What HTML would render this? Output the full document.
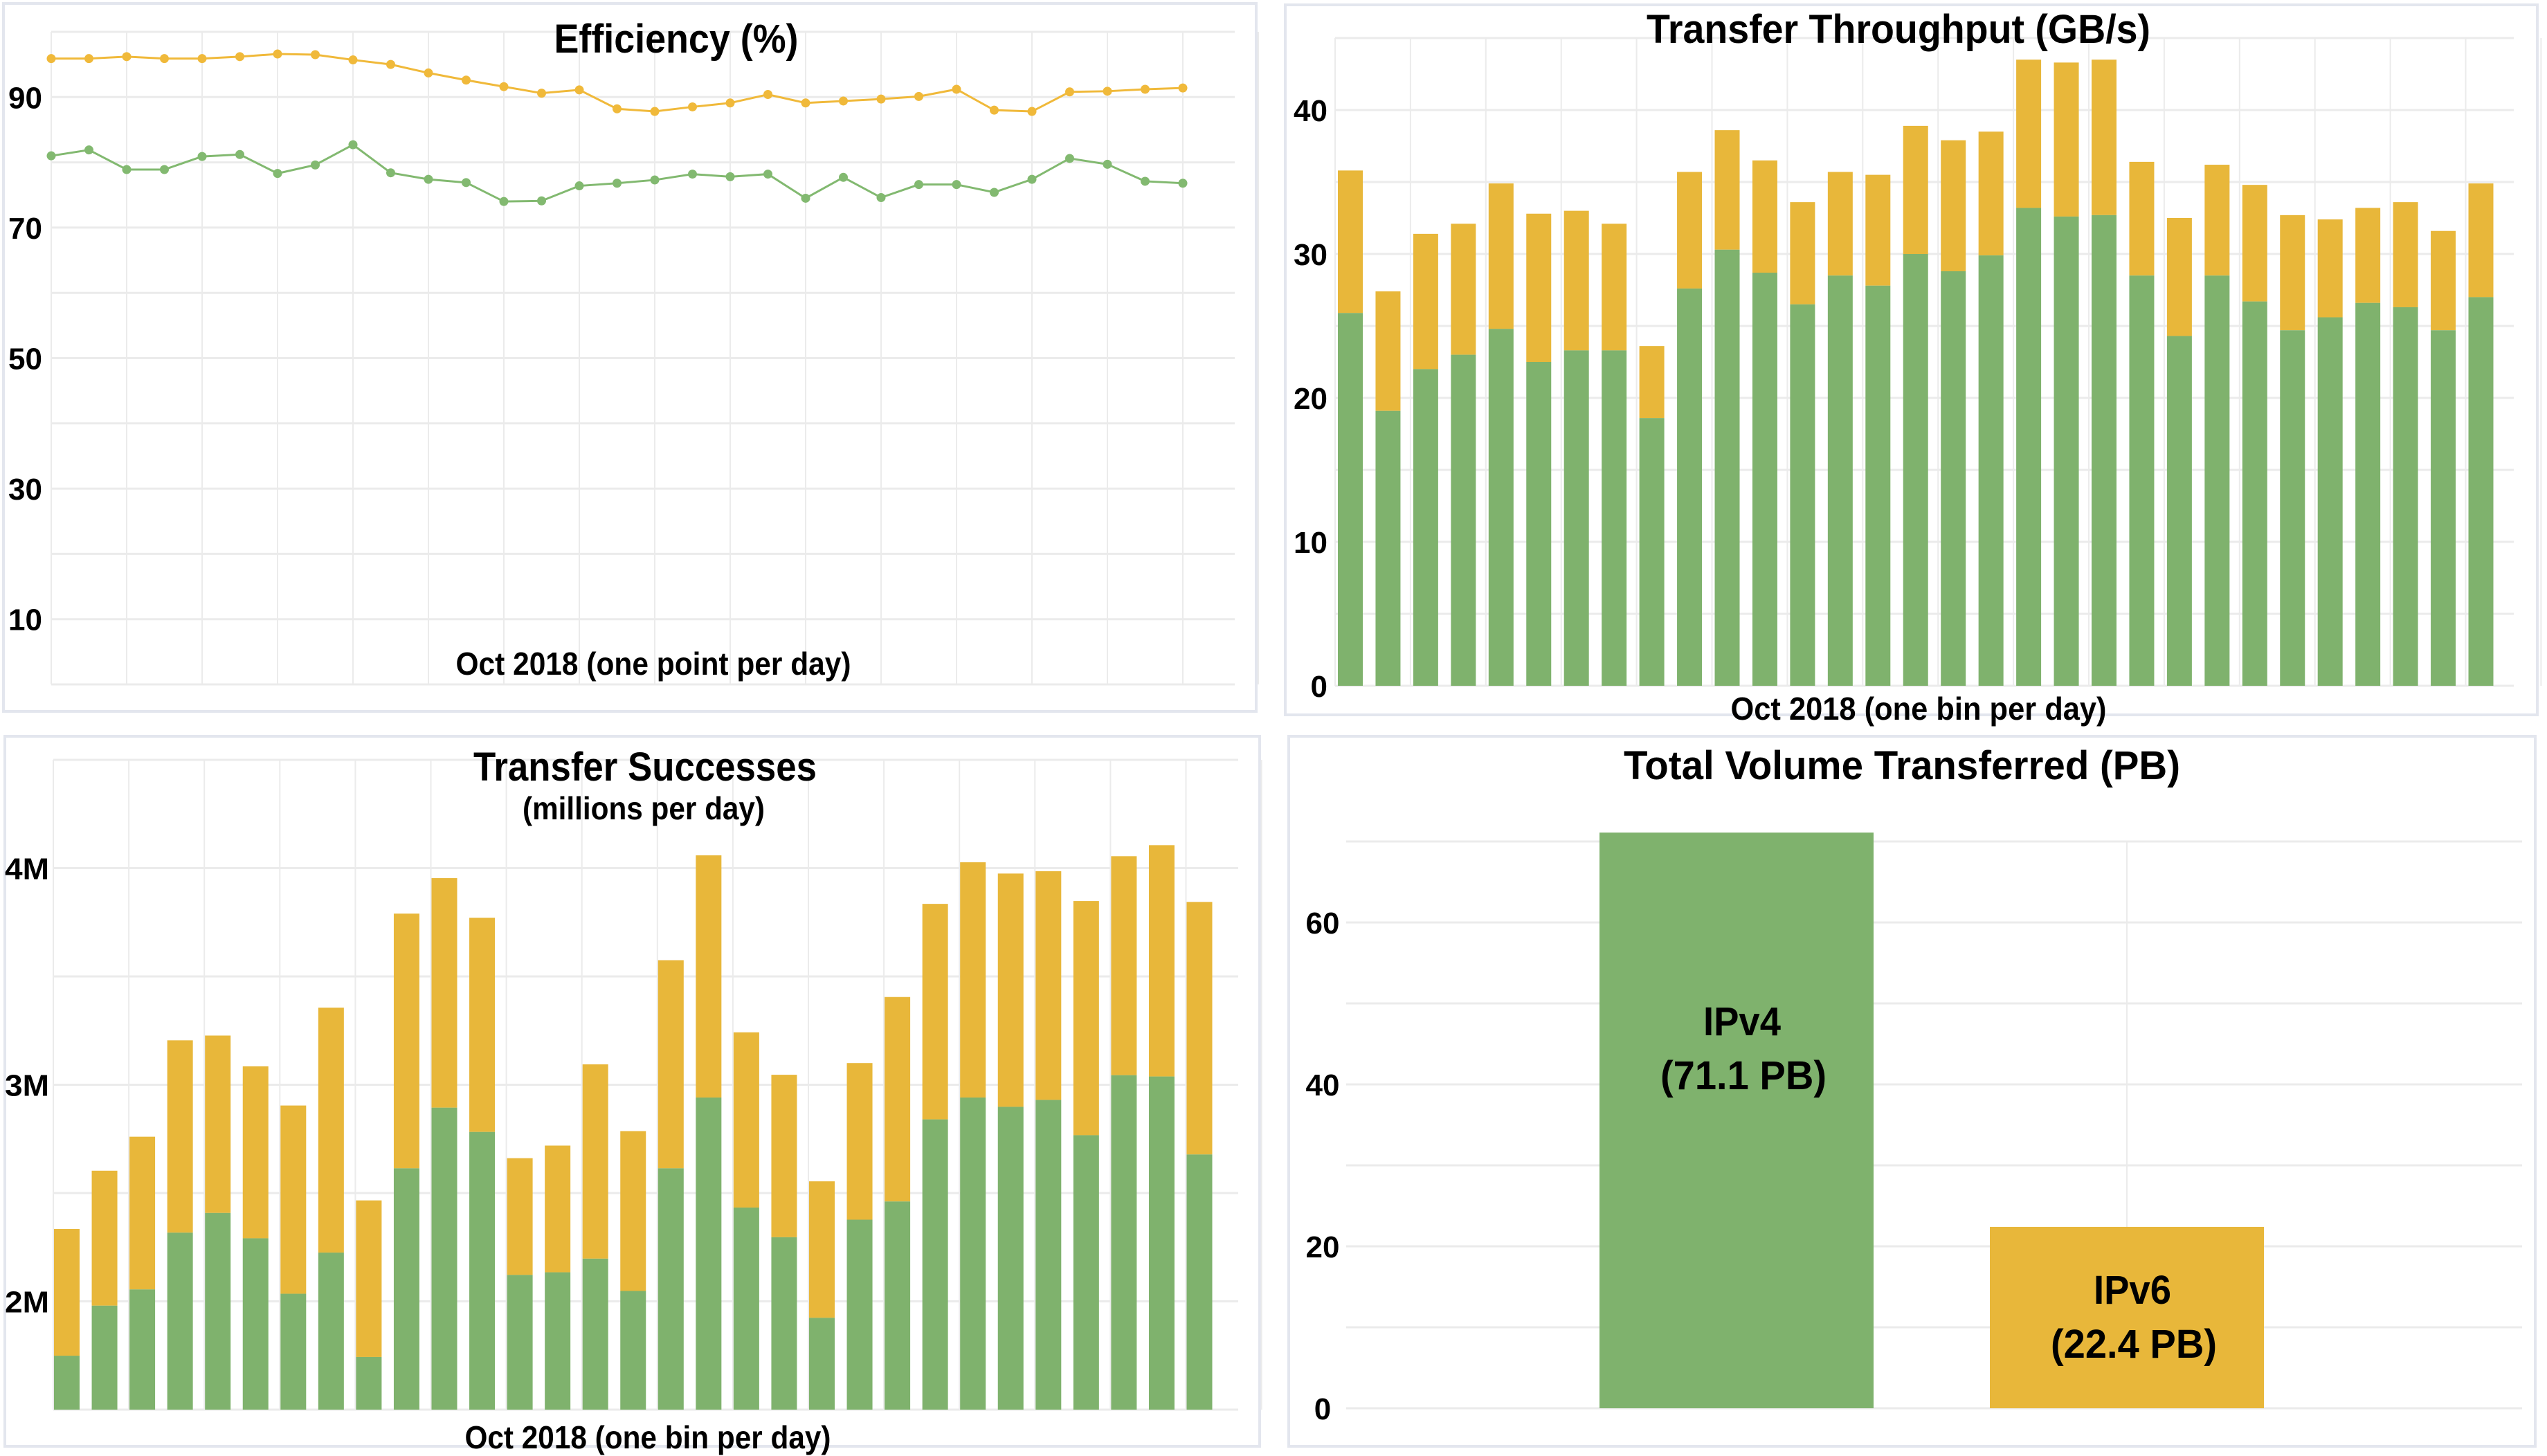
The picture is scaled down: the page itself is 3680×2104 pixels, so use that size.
<!DOCTYPE html>
<html><head><meta charset="utf-8"><style>
html,body{margin:0;padding:0;background:#fff;}
svg{display:block;font-family:"Liberation Sans",sans-serif;font-weight:bold;}
</style></head><body>
<svg id="root" width="3680" height="2104" viewBox="0 0 3680 2104" xmlns="http://www.w3.org/2000/svg">
<rect x="5" y="5" width="1810" height="1023" fill="#fff" stroke="#e3e6ee" stroke-width="4"/>
<rect x="1857" y="7" width="1809" height="1026" fill="#fff" stroke="#e3e6ee" stroke-width="4"/>
<rect x="7" y="1064" width="1813" height="1026" fill="#fff" stroke="#e3e6ee" stroke-width="4"/>
<rect x="1862" y="1064" width="1801" height="1026" fill="#fff" stroke="#e3e6ee" stroke-width="4"/>
<g id="g1"></g>
<g id="g2"></g>
<g id="g3"></g>
<g id="g4"></g>
</svg>
<script>
// ---- data ----
const effIPv6 = [95.9,95.9,96.2,95.9,95.9,96.2,96.6,96.5,95.7,95.0,93.7,92.6,91.6,90.6,91.1,88.2,87.8,88.5,89.1,90.4,89.1,89.4,89.7,90.1,91.2,88.0,87.8,90.8,90.9,91.2,91.4];
const effIPv4 = [81.0,81.9,78.9,78.9,80.9,81.2,78.3,79.6,82.7,78.4,77.4,76.9,74.0,74.1,76.4,76.8,77.3,78.2,77.8,78.2,74.5,77.7,74.6,76.6,76.6,75.4,77.4,80.6,79.7,77.1,76.8];
const effTicks = [10,30,50,70,90];
const tpTotal = [35.8,27.4,31.4,32.1,34.9,32.8,33.0,32.1,23.6,35.7,38.6,36.5,33.6,35.7,35.5,38.9,37.9,38.5,43.5,43.3,43.5,36.4,32.5,36.2,34.8,32.7,32.4,33.2,33.6,31.6,34.9];
const tpIPv4 = [25.9,19.1,22.0,23.0,24.8,22.5,23.3,23.3,18.6,27.6,30.3,28.7,26.5,28.5,27.8,30.0,28.8,29.9,33.2,32.6,32.7,28.5,24.3,28.5,26.7,24.7,25.6,26.6,26.3,24.7,27.0];
const tpTicks = [0,10,20,30,40];
const sucTotal = [2.334,2.603,2.760,3.205,3.227,3.085,2.904,3.356,2.466,3.790,3.954,3.771,2.661,2.719,3.094,2.786,3.575,4.059,3.242,3.046,2.554,3.100,3.405,3.835,4.027,3.975,3.986,3.848,4.055,4.106,3.844];
const sucIPv4 = [1.749,1.980,2.055,2.317,2.408,2.291,2.035,2.225,1.743,2.614,2.894,2.782,2.122,2.134,2.197,2.048,2.614,2.941,2.433,2.296,1.924,2.377,2.461,2.840,2.941,2.898,2.930,2.767,3.044,3.038,2.678];
const sucTicks = [2,3,4];
const sucTickLabels = ["2M","3M","4M"];
const volCats = ["IPv4","IPv6"];
const volValues = [71.1,22.4];
const volLabels = ["(71.1 PB)","(22.4 PB)"];
const volTicks = [0,20,40,60];

const NS="http://www.w3.org/2000/svg";
const GREEN="#7fb26d", YELLOW="#e8b73a", GRID="#ebebeb";
function mk(p,tag,attrs,txt){const e=document.createElementNS(NS,tag);for(const k in attrs)e.setAttribute(k,attrs[k]);if(txt!==undefined)e.textContent=txt;p.appendChild(e);return e;}

// ---- chart 1: efficiency ----
(function(){
 const g=document.getElementById('g1');
 const x0=74,x1=1784,y0=989,y100=46,n=31,step=54.5;
 const X=i=>x0+i*step, Y=v=>y0-(v/100)*(y0-y100);
 for(let v=0;v<=100;v+=10){const l=mk(g,'line',{x1:x0,x2:x1,y1:Y(v),y2:Y(v),stroke:GRID,'stroke-width':3});
  
  }
 for(let i=0;i<=n+1;i+=2){const l=mk(g,'line',{x1:X(i),x2:X(i),y1:y100,y2:y0,stroke:GRID,'stroke-width':2});
  
  }
 effTicks.forEach(v=>{const t=mk(g,'text',{x:12,y:Y(v)+16,'font-size':44},String(v));
  
  });
 [[effIPv6,"#f0b93a","efficiency-ipv6"],[effIPv4,"#82b970","efficiency-ipv4"]].forEach(([d,c,nm])=>{
  const p=mk(g,'polyline',{points:d.map((v,i)=>X(i)+','+Y(v)).join(' '),fill:'none',stroke:c,'stroke-width':3});
  
  
  d.forEach((v,i)=>{const ci=mk(g,'circle',{cx:X(i),cy:Y(v),r:6.5,fill:c});
   
   });
 });
 const t=mk(g,'text',{x:977,y:76,'font-size':58,'text-anchor':'middle',textLength:353,lengthAdjust:'spacingAndGlyphs'},'Efficiency (%)');
 
 
 const xl=mk(g,'text',{x:944,y:975,'font-size':46,'text-anchor':'middle',textLength:571,lengthAdjust:'spacingAndGlyphs'},'Oct 2018 (one point per day)');
 
 
})();

// ---- chart 2: throughput ----
(function(){
 const g=document.getElementById('g2');
 const x0=1929,x1=3632,y0=991,per=20.8,n=31,band=54.45,bw=36;
 const Y=v=>y0-v*per;
 for(let v=0;v<=45;v+=5){const l=mk(g,'line',{x1:x0,x2:x1,y1:Y(v),y2:Y(v),stroke:GRID,'stroke-width':3});
  
  }
 for(let i=0;i<=n+1;i+=2){const l=mk(g,'line',{x1:x0+i*band,x2:x0+i*band,y1:Y(45),y2:y0,stroke:GRID,'stroke-width':2});
  
  }
 tpTotal.forEach((tot,i)=>{const bx=x0+4+i*band;
  const a=mk(g,'rect',{x:bx,y:Y(tot),width:bw,height:Y(tpIPv4[i])-Y(tot),fill:YELLOW});
  
  
  const b=mk(g,'rect',{x:bx,y:Y(tpIPv4[i]),width:bw,height:y0-Y(tpIPv4[i]),fill:GREEN});
  
  });
 tpTicks.forEach(v=>{const t=mk(g,'text',{x:1918,y:Y(v)+16,'font-size':44,'text-anchor':'end'},String(v));
  
  });
 const t=mk(g,'text',{x:2743,y:62,'font-size':58,'text-anchor':'middle',textLength:728,lengthAdjust:'spacingAndGlyphs'},'Transfer Throughput (GB/s)');
 
 
 const xl=mk(g,'text',{x:2772,y:1040,'font-size':46,'text-anchor':'middle',textLength:543,lengthAdjust:'spacingAndGlyphs'},'Oct  2018 (one bin per day)');
 
 
})();

// ---- chart 3: successes ----
(function(){
 const g=document.getElementById('g3');
 const x0=77,x1=1789,y0=2037,per=313,base=1.5,n=31,band=54.55,bw=37;
 const Y=v=>y0-(v-base)*per;
 for(let v=1.5;v<=4.5;v+=0.5){const l=mk(g,'line',{x1:x0,x2:x1,y1:Y(v),y2:Y(v),stroke:GRID,'stroke-width':3});
  
  }
 for(let i=0;i<=n+1;i+=2){const l=mk(g,'line',{x1:x0+i*band,x2:x0+i*band,y1:Y(4.5),y2:y0,stroke:GRID,'stroke-width':2});
  
  }
 sucTotal.forEach((tot,i)=>{const bx=x0+1+i*band;
  const a=mk(g,'rect',{x:bx,y:Y(tot),width:bw,height:Y(sucIPv4[i])-Y(tot),fill:YELLOW});
  
  
  const b=mk(g,'rect',{x:bx,y:Y(sucIPv4[i]),width:bw,height:y0-Y(sucIPv4[i]),fill:GREEN});
  
  });
 sucTicks.forEach((v,k)=>{const t=mk(g,'text',{x:7,y:Y(v)+16,'font-size':44,textLength:64,lengthAdjust:'spacingAndGlyphs'},sucTickLabels[k]);
  
  });
 const t=mk(g,'text',{x:932,y:1128,'font-size':58,'text-anchor':'middle',textLength:496,lengthAdjust:'spacingAndGlyphs'},'Transfer Successes');
 
 
 const s=mk(g,'text',{x:930,y:1184,'font-size':46,'text-anchor':'middle',textLength:350,lengthAdjust:'spacingAndGlyphs'},'(millions per day)');
 
 
 const xl=mk(g,'text',{x:936,y:2093,'font-size':46,'text-anchor':'middle',textLength:529,lengthAdjust:'spacingAndGlyphs'},'Oct 2018 (one bin per day)');
 
 
})();

// ---- chart 4: volume ----
(function(){
 const g=document.getElementById('g4');
 const x0=1945,x1=3644,y0=2035,per=11.7;
 const Y=v=>y0-v*per;
 const centers=[2509,3073], bw=396;
 for(let v=0;v<=70;v+=10){const l=mk(g,'line',{x1:x0,x2:x1,y1:Y(v),y2:Y(v),stroke:GRID,'stroke-width':3});
  
  }
 centers.forEach(c=>{const l=mk(g,'line',{x1:c,x2:c,y1:Y(70),y2:y0,stroke:GRID,'stroke-width':2});
  
  });
 volValues.forEach((v,i)=>{
  const r=mk(g,'rect',{x:centers[i]-bw/2,y:Y(v),width:bw,height:y0-Y(v),fill:i==0?GREEN:YELLOW});
  
  
  const ly=i==0?1496:1884;
  const a=mk(g,'text',{x:centers[i]+8,y:ly,'font-size':58,'text-anchor':'middle',textLength:112,lengthAdjust:'spacingAndGlyphs'},volCats[i]);
  
  
  const b=mk(g,'text',{x:centers[i]+10,y:ly+78,'font-size':58,'text-anchor':'middle',textLength:240,lengthAdjust:'spacingAndGlyphs'},volLabels[i]);
  
  
 });
 volTicks.forEach(v=>{const t=mk(g,'text',{x:1911,y:Y(v)+16,'font-size':44,'text-anchor':'middle'},String(v));
  
  });
 const t=mk(g,'text',{x:2748,y:1126,'font-size':58,'text-anchor':'middle',textLength:804,lengthAdjust:'spacingAndGlyphs'},'Total Volume Transferred (PB)');
 
 
})();
</script>
</body></html>
